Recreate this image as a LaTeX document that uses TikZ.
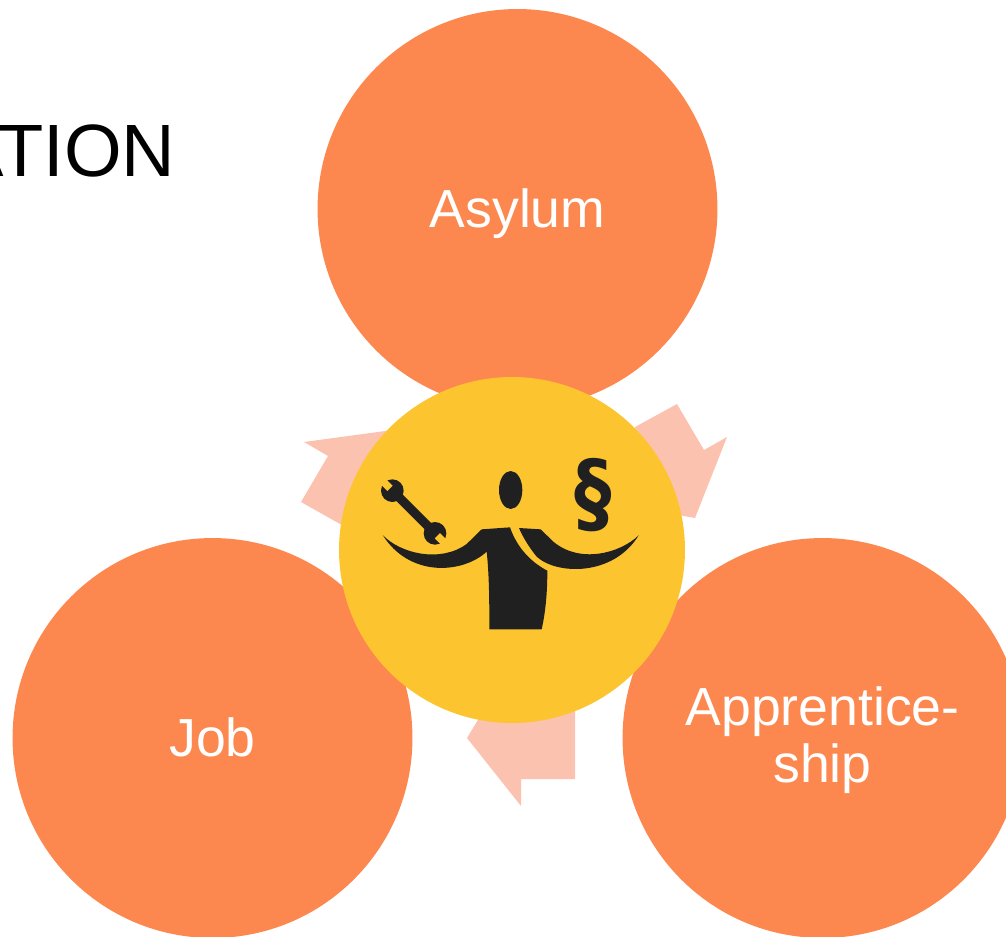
\documentclass[tikz,border=0pt]{standalone}
\usepackage{fontspec}
\setmainfont{Liberation Sans}
\newfontfamily\signfont{DejaVu Sans}
\definecolor{bubbleorange}{RGB}{252,136,79}
\definecolor{hubyellow}{RGB}{252,196,47}
\definecolor{arrowpink}{RGB}{252,194,176}
\definecolor{iconblack}{RGB}{32,32,32}
\tikzset{
  bubble/.style={circle,fill=bubbleorange,text=white,minimum size=8cm,inner sep=0pt,align=center,text depth=1.5pt,font=\fontsize{30.5}{32.5}\selectfont},
  hub/.style={circle,fill=hubyellow,minimum size=6.92cm,inner sep=0pt},
  blockarrow/.style={fill=arrowpink},
  icon/.style={fill=iconblack}
}

\begin{document}
\begin{tikzpicture}[x=0.02cm,y=-0.02cm]
                \clip (0,0) rectangle (1006,936);

                % Title, cut off by the page
                \node[anchor=east,inner sep=0pt,font=\fontsize{42.2}{46}\selectfont] (title) at (175.7,151) {ATION};

                % Arrows
                \fill[blockarrow] (635,427) -- (677,404) -- (704,450) -- (727,437) -- (695,518) -- (650,510) -- cycle;
                \fill[blockarrow] (575,700) -- (575,779) -- (521,779) -- (521,806) -- (467,738) -- (490,700) -- cycle;
                \fill[blockarrow] (304,442) -- (400,429) -- (370,540) -- (340,524) -- (301,502) -- (328,456) -- cycle;

                % Outer circles
                \node[bubble] (asylum) at (517.5,209) {Asylum};
                \node[bubble] (job) at (212.5,738) {Job};
                \node[bubble,text depth=4pt] (apprenticeship) at (822.5,738) {Apprentice-\\ship};

                % Centre circle
                \node[hub] (centre) at (512,550) {};

                % Person, in the coordinates of the 3x crop
                \begin{scope}[shift={(360,440)},scale=1/3]
                \fill[icon] (452,150) ellipse (35 and 57);
                \fill[icon] (68,285) .. controls (120,340) and (240,370) .. (320,312) -- (365,268)
                    -- (450,262) .. controls (470,320) and (510,365) .. (562,392)
                    .. controls (562,450) and (558,510) .. (545,568) -- (388,568)
                    .. controls (388,490) and (388,410) .. (380,335)
                    .. controls (310,400) and (150,415) .. (68,285) -- cycle;
                \fill[icon] (477,264) -- (542,268) -- (580,305)
                    .. controls (660,372) and (780,340) .. (836,286)
                    .. controls (760,410) and (590,405) .. (530,350)
                    .. controls (510,325) and (490,295) .. (477,264) -- cycle;

                % Wrench
                \draw[iconblack,line width=0.18cm] (97,152) -- (225,280);
                \fill[icon] (97,152) circle (34);
                \fill[icon] (225,280) circle (34);
                \fill[hubyellow,rotate around={-45:(97,152)}] (50,141) rectangle (87,163);
                \fill[hubyellow,rotate around={-45:(225,280)}] (235,269) rectangle (272,291);

                % Paragraph sign
                \node[text=iconblack,inner sep=0pt,font=\signfont\fontsize{50}{50}\bfseries\selectfont] (paragraph) at (700,165) {\scalebox{0.85}[1]{§}};
                \end{scope}
            \end{tikzpicture}
\end{document}
